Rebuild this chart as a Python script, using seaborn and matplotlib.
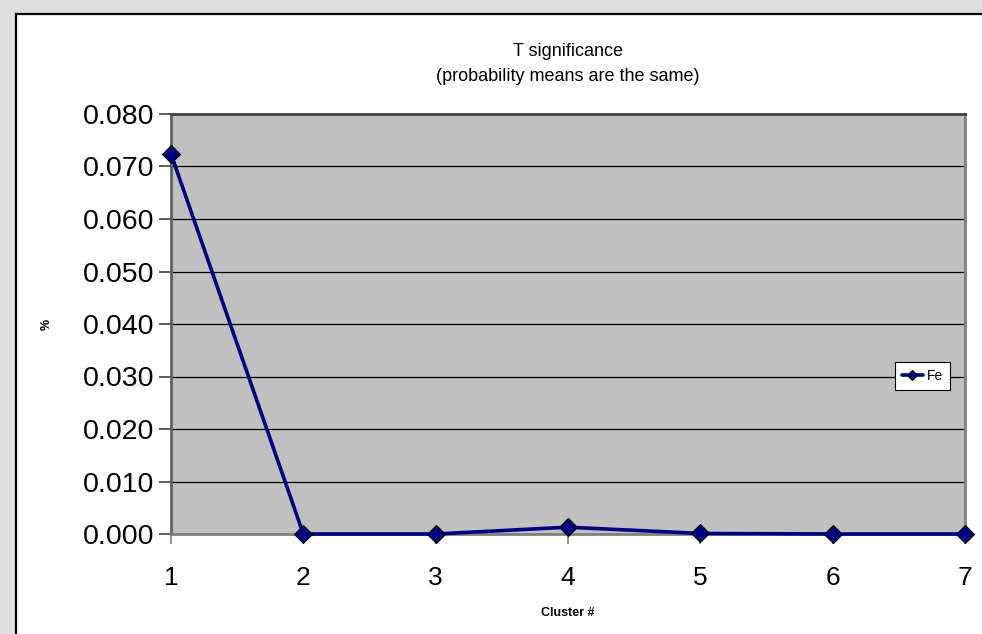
import matplotlib
matplotlib.use("Agg")
import matplotlib.pyplot as plt
from matplotlib.patches import Rectangle
import seaborn as sns
import pandas as pd

# Cluster numbers and the T-test probability for Fe
clusters = [1, 2, 3, 4, 5, 6, 7]
fe_values = [0.0724, 0.0000, 0.0000, 0.0013, 0.0001, 0.0000, 0.0000]
y_ticks = [0.000, 0.010, 0.020, 0.030, 0.040, 0.050, 0.060, 0.070, 0.080]

df = pd.DataFrame({"Cluster #": clusters, "Fe": fe_values})

sns.set_style("white")
plt.rcParams["font.family"] = ["Liberation Sans", "DejaVu Sans"]
plt.rcParams["text.color"] = "black"
plt.rcParams["axes.labelcolor"] = "black"
plt.rcParams["xtick.color"] = "black"
plt.rcParams["ytick.color"] = "black"

W, H = 982, 634
fig = plt.figure(figsize=(W / 100, H / 100), dpi=100, facecolor="#DEDEDE")

# white chart area with black frame
fig.patches.append(Rectangle((16 / W, -0.05), 1, 1.05 - 14 / H, transform=fig.transFigure,
                             facecolor="white", edgecolor="black", linewidth=1.6,
                             zorder=-10))

ax = fig.add_axes([171 / W, 100 / H, 794 / W, 420 / H])
ax.set_zorder(5)
ax.set_facecolor("#C0C0C0")

sns.lineplot(data=df, x="Cluster #", y="Fe", ax=ax, color="#000080", linewidth=2.6,
             marker="D", markersize=9, markerfacecolor="#000080",
             markeredgecolor="#000000", markeredgewidth=0.8, label="Fe",
             clip_on=False, zorder=5)

ax.set_xlim(1, 7)
ax.set_ylim(0, 0.08)
ax.set_xticks(clusters)
ax.set_xticklabels([str(c) for c in clusters])
ax.set_yticks(y_ticks)
ax.set_yticklabels([f"{v:.3f}" for v in y_ticks])

ax.grid(axis="y", color="black", linewidth=0.9)
ax.grid(axis="x", visible=False)
ax.set_axisbelow(True)

for side in ["left", "right", "top", "bottom"]:
    ax.spines[side].set_visible(True)
    ax.spines[side].set_color("#808080")
    ax.spines[side].set_linewidth(2)
ax.spines["top"].set_color("#404040")
ax.spines["left"].set_color("#606060")

ax.tick_params(axis="y", which="major", left=True, length=9, width=1.2,
               color="#404040", labelcolor="black", pad=3, labelsize=20.5)
ax.tick_params(axis="x", which="major", bottom=True, length=7, width=1.2,
               color="#808080", labelcolor="black", pad=16, labelsize=19)

ax.set_xlabel("Cluster #", fontsize=9, fontweight="bold", labelpad=12)
ax.set_ylabel("%", fontsize=9, fontweight="bold", labelpad=22)

ax.set_title("T significance\n(probability means are the same)", fontsize=13,
             pad=24, linespacing=1.6, color="black")

leg = ax.legend(loc="center left", bbox_to_anchor=(895 / W, 1 - 376 / H),
                bbox_transform=fig.transFigure, frameon=True, fontsize=10,
                handlelength=1.5, handletextpad=0.3, borderpad=0.5,
                borderaxespad=0, fancybox=False, markerscale=0.6)
leg.get_frame().set_edgecolor("black")
leg.get_frame().set_linewidth(0.8)
leg.get_frame().set_facecolor("white")
leg.get_frame().set_alpha(1)

fig.savefig("out.png", dpi=100, facecolor=fig.get_facecolor())
